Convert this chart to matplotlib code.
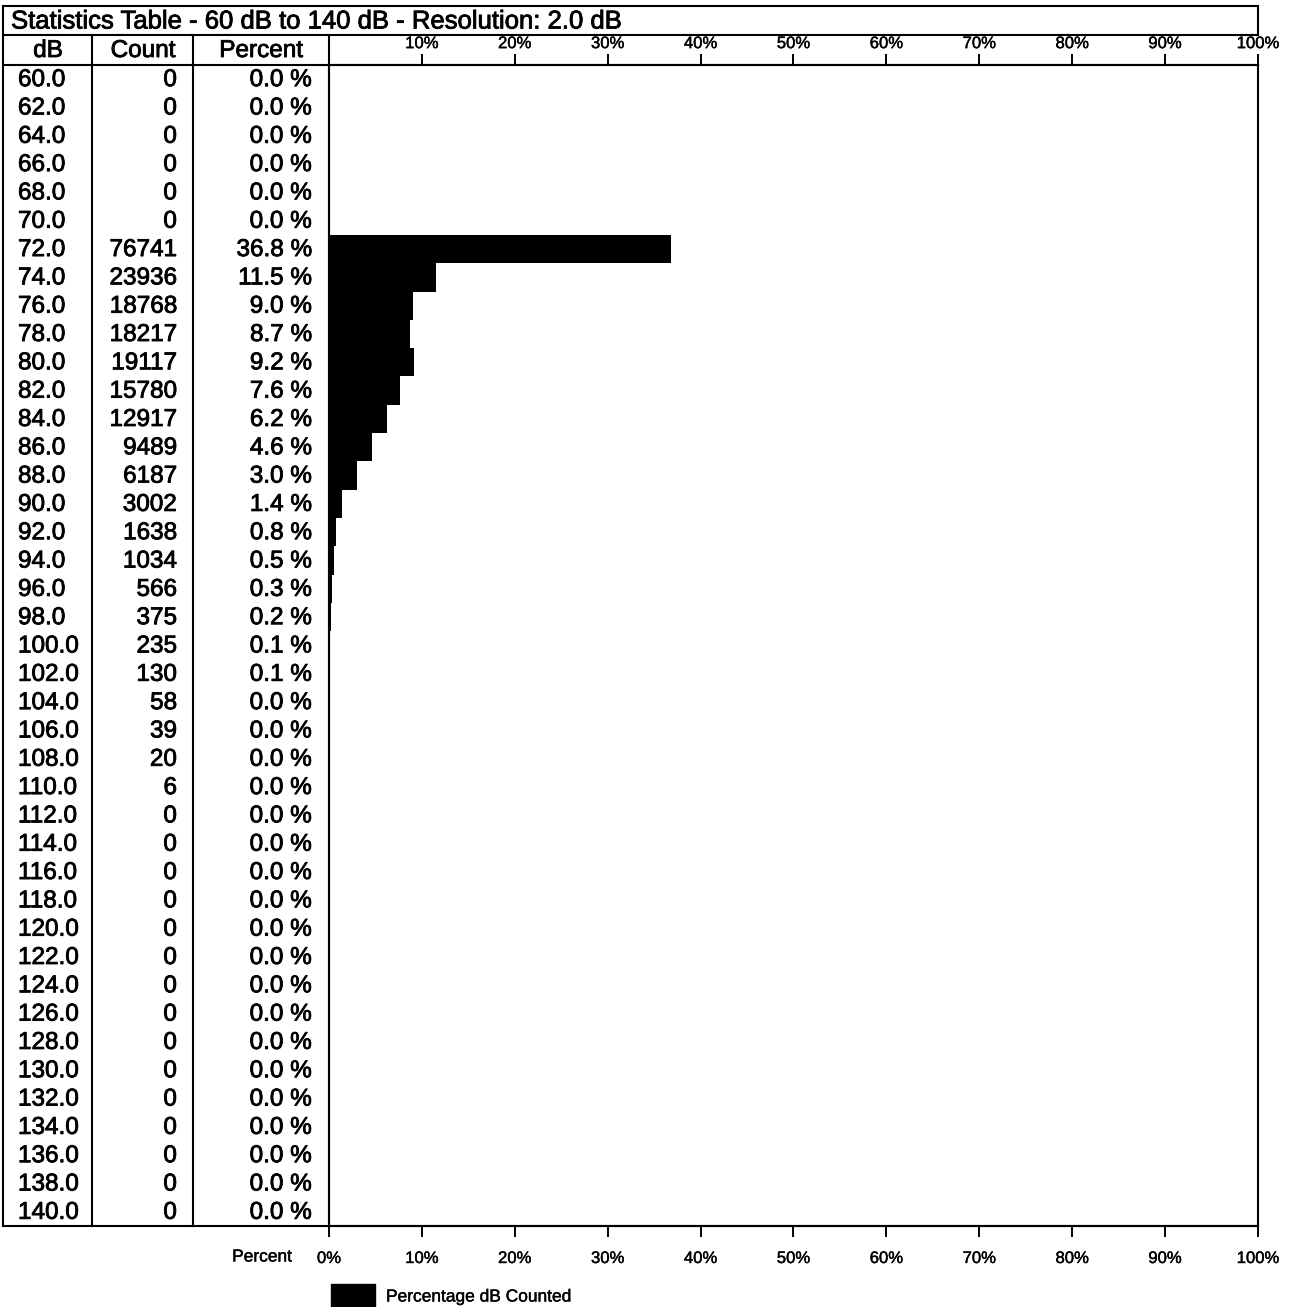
import matplotlib
matplotlib.use("Agg")
import matplotlib.pyplot as plt
import matplotlib.patheffects as pe
from matplotlib.patches import Rectangle
from matplotlib.lines import Line2D

# ---- data ----
db_levels = ["60.0", "62.0", "64.0", "66.0", "68.0", "70.0", "72.0", "74.0", "76.0", "78.0",
             "80.0", "82.0", "84.0", "86.0", "88.0", "90.0", "92.0", "94.0", "96.0", "98.0",
             "100.0", "102.0", "104.0", "106.0", "108.0", "110.0", "112.0", "114.0", "116.0", "118.0",
             "120.0", "122.0", "124.0", "126.0", "128.0", "130.0", "132.0", "134.0", "136.0", "138.0",
             "140.0"]
counts = [0, 0, 0, 0, 0, 0, 76741, 23936, 18768, 18217,
          19117, 15780, 12917, 9489, 6187, 3002, 1638, 1034, 566, 375,
          235, 130, 58, 39, 20, 6, 0, 0, 0, 0,
          0, 0, 0, 0, 0, 0, 0, 0, 0, 0,
          0]
percents = [0.0, 0.0, 0.0, 0.0, 0.0, 0.0, 36.8, 11.5, 9.0, 8.7,
            9.2, 7.6, 6.2, 4.6, 3.0, 1.4, 0.8, 0.5, 0.3, 0.2,
            0.1, 0.1, 0.0, 0.0, 0.0, 0.0, 0.0, 0.0, 0.0, 0.0,
            0.0, 0.0, 0.0, 0.0, 0.0, 0.0, 0.0, 0.0, 0.0, 0.0,
            0.0]
x_ticks = [0, 10, 20, 30, 40, 50, 60, 70, 80, 90, 100]
title_text = "Statistics Table - 60 dB to 140 dB - Resolution: 2.0 dB"
headers = ["dB", "Count", "Percent"]
legend_label = "Percentage dB Counted"

# ---- layout (pixels) ----
W, H = 1289, 1307
plt.rcParams['font.family'] = ['Liberation Sans', 'DejaVu Sans']
fig = plt.figure(figsize=(W / 100, H / 100), dpi=100)
fig.patch.set_facecolor('white')

heavy = [pe.withStroke(linewidth=0.6, foreground='black')]
light = [pe.withStroke(linewidth=0.3, foreground='black')]

X_LEFT, X_C1, X_C2, X_PLOT, X_RIGHT = 3, 92, 193, 329, 1258
Y_TOP, Y_TITLE_B, Y_HEAD_B, Y_BOTTOM = 6, 35, 65, 1226
n = len(db_levels)
row_h = (Y_BOTTOM - Y_HEAD_B) / n

# bar axes
ax = fig.add_axes([X_PLOT / W, 1 - Y_BOTTOM / H, (X_RIGHT - X_PLOT) / W, (Y_BOTTOM - Y_HEAD_B) / H])
ax.barh(range(n), percents, height=1.0, color='black', edgecolor='none')
ax.set_xlim(0, 100)
ax.set_ylim(n - 0.5, -0.5)
ax.set_yticks([])
ax.set_xticks(x_ticks)
ax.set_xticklabels([f"{t}%" for t in x_ticks], fontsize=12)
for lab in ax.get_xticklabels():
    lab.set_path_effects(light)
ax.tick_params(axis='x', which='both', direction='out', length=8, width=1.4,
               top=True, labeltop=False, bottom=True, labelbottom=True, pad=10)
for t in x_ticks[1:]:
    ax.annotate(f"{t}%", xy=(t, -0.5), xycoords='data', xytext=(0, 10),
                textcoords='offset points', ha='center', va='bottom',
                fontsize=12, annotation_clip=False, path_effects=light)
for s in ax.spines.values():
    s.set_linewidth(1.5)

# overlay axes in pixel coords
ov = fig.add_axes([0, 0, 1, 1], facecolor='none')
ov.set_xlim(0, W)
ov.set_ylim(H, 0)
ov.axis('off')

lw = 1.5
def hline(y, x0, x1):
    ov.add_line(Line2D([x0, x1], [y, y], color='black', lw=lw))
def vline(x, y0, y1):
    ov.add_line(Line2D([x, x], [y0, y1], color='black', lw=lw))

hline(Y_TOP, X_LEFT, X_RIGHT)
hline(Y_TITLE_B, X_LEFT, X_RIGHT)
hline(Y_HEAD_B, X_LEFT, X_RIGHT)
hline(Y_BOTTOM, X_LEFT, X_RIGHT)
vline(X_LEFT, Y_TOP, Y_BOTTOM)
vline(X_RIGHT, Y_TOP, Y_TITLE_B)
for x in (X_C1, X_C2, X_PLOT):
    vline(x, Y_TITLE_B, Y_BOTTOM)

fs = 17.5
ov.text(X_LEFT + 8, (Y_TOP + Y_TITLE_B) / 2 + 1, title_text, ha='left', va='center',
        fontsize=18.5, path_effects=heavy)
hy = (Y_TITLE_B + Y_HEAD_B) / 2 + 1
ov.text(48, hy, headers[0], ha='center', va='center', fontsize=fs, path_effects=heavy)
ov.text(143, hy, headers[1], ha='center', va='center', fontsize=fs, path_effects=heavy)
ov.text(261, hy, headers[2], ha='center', va='center', fontsize=fs, path_effects=heavy)

for i in range(n):
    y = Y_HEAD_B + (i + 0.5) * row_h + 1
    ov.text(18, y, db_levels[i], ha='left', va='center', fontsize=fs, path_effects=heavy)
    ov.text(X_C2 - 16, y, f"{counts[i]}", ha='right', va='center', fontsize=fs, path_effects=heavy)
    ov.text(X_PLOT - 17, y, f"{percents[i]:.1f} %", ha='right', va='center', fontsize=fs,
            path_effects=heavy)

ov.text(262, 1257, "Percent", ha='center', va='center', fontsize=12.5, path_effects=light)

# legend
ov.add_patch(Rectangle((331, 1284), 44, 24, color='black'))
ov.text(386, 1297, legend_label, ha='left', va='center', fontsize=12.5, path_effects=light)

fig.savefig("out.png", dpi=100, facecolor='white')
